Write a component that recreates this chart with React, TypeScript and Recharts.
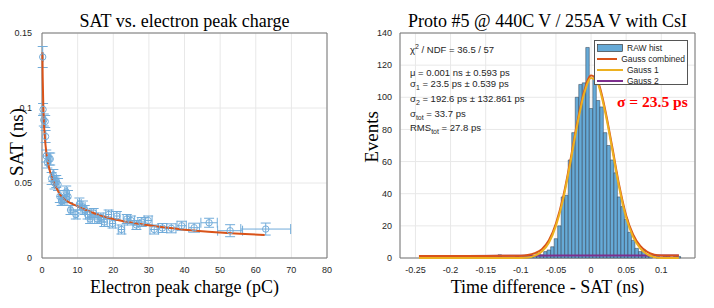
import {
  ComposedChart,
  Scatter,
  Line,
  Bar,
  XAxis,
  YAxis,
  CartesianGrid,
  ErrorBar,
  ReferenceArea,
} from "recharts";

// left panel: SAT vs charge
const chargePC = [
  0.2, 0.3, 0.5, 0.9, 1.0, 1.2, 1.5, 2.0, 2.3, 2.7, 3.2, 3.5, 4.0, 4.5, 5.0, 5.5, 6.0, 6.8, 7.3, 8.0,
  9.5, 10.5, 11.5, 12.0, 12.8, 13.5, 14.5, 15.5, 16.5, 17.5, 18.7, 19.8, 21.0, 22.3, 23.8, 25.0, 26.5,
  28.0, 29.8, 31.5, 33.8, 36.3, 39.2, 42.7, 46.9, 52.8, 62.8,
];
const chargeErr = [
  0.1, 0.1, 0.1, 0.1, 0.1, 0.1, 0.15, 0.15, 0.2, 0.2, 0.2, 0.25, 0.25, 0.3, 0.3, 0.3, 0.35, 0.4, 0.4, 0.4,
  0.5, 0.5, 0.6, 0.6, 0.6, 0.6, 0.7, 0.7, 0.7, 0.8, 0.8, 0.8, 0.9, 0.9, 1.0, 1.0, 1.0, 1.1, 1.1, 1.2, 1.2,
  1.3, 1.3, 1.5, 2.3, 3.5, 7,
];
const satNs = [
  0.134, 0.099, 0.092, 0.091, 0.081, 0.068, 0.064, 0.066, 0.066, 0.053, 0.055, 0.05, 0.051, 0.049, 0.041,
  0.038, 0.039, 0.044, 0.041, 0.032, 0.029, 0.036, 0.034, 0.032, 0.029, 0.026, 0.03, 0.026, 0.027, 0.024,
  0.029, 0.023, 0.028, 0.019, 0.026, 0.025, 0.022, 0.024, 0.025, 0.019, 0.02, 0.0198, 0.0215, 0.0202,
  0.0235, 0.0182, 0.0193,
];
const satErr = [
  0.007, 0.004, 0.004, 0.004, 0.004, 0.004, 0.004, 0.004, 0.004, 0.004, 0.004, 0.004, 0.004, 0.004, 0.004,
  0.003, 0.003, 0.004, 0.004, 0.003, 0.003, 0.004, 0.004, 0.003, 0.003, 0.003, 0.003, 0.003, 0.003, 0.003,
  0.003, 0.003, 0.003, 0.003, 0.003, 0.003, 0.003, 0.003, 0.003, 0.003, 0.003, 0.003, 0.003, 0.003, 0.003,
  0.004, 0.004,
];
const fitCharge = [0.1, 0.2, 0.35, 0.5, 0.75, 1, 1.5, 2, 3, 4, 5, 7, 10, 15, 20, 30, 40, 50, 62.5];
const fitSat = [
  0.137, 0.12, 0.103, 0.092, 0.082, 0.075, 0.066, 0.06, 0.052, 0.047, 0.0425, 0.038, 0.0345, 0.0295,
  0.026, 0.0218, 0.0189, 0.017, 0.0153,
];
const chargeTicks = [0, 10, 20, 30, 40, 50, 60, 70, 80];
const satTicks = [0, 0.05, 0.1, 0.15];

// right panel: time difference histogram
const binCenters = [
  -0.24, -0.235, -0.23, -0.225, -0.22, -0.215, -0.21, -0.205, -0.2, -0.195,
  -0.19, -0.185, -0.18, -0.175, -0.17, -0.165, -0.16, -0.155, -0.15, -0.145,
  -0.14, -0.135, -0.13, -0.125, -0.12, -0.115, -0.11, -0.105, -0.1, -0.095,
  -0.09, -0.085, -0.08, -0.075, -0.07, -0.065, -0.06, -0.055, -0.05, -0.045,
  -0.04, -0.035, -0.03, -0.025, -0.02, -0.015, -0.01, -0.005, 0, 0.005,
  0.01, 0.015, 0.02, 0.025, 0.03, 0.035, 0.04, 0.045, 0.05, 0.055,
  0.06, 0.065, 0.07, 0.075, 0.08, 0.085, 0.09, 0.095, 0.1, 0.105,
  0.11, 0.115, 0.12, 0.125,
];
const binCounts = [
  1, 0, 0, 0, 0, 0, 0, 1, 0, 0,
  0, 0, 0, 0, 0, 0, 0, 1, 0, 0,
  0, 0, 2, 0, 0, 0, 0, 1, 0, 1,
  1, 1, 1, 3, 2, 4, 5, 7, 12, 20,
  38, 39, 61, 78, 100, 108, 109, 131, 93, 112,
  98, 94, 78, 70, 61, 53, 38, 32, 24, 16,
  11, 6, 4, 5, 1, 1, 0, 1, 0, 1,
  1, 0, 1, 1,
];
const gaussX = [
  -0.245, -0.15, -0.1, -0.09, -0.08, -0.07, -0.06, -0.05, -0.04, -0.03, -0.02, -0.01, 0, 0.005, 0.01,
  0.02, 0.03, 0.04, 0.05, 0.06, 0.07, 0.08, 0.09, 0.1, 0.125,
];
const gauss1 = [0, 0, 0, 0.3, 1.5, 4, 9.5, 20, 36, 58, 82, 102, 112, 111, 108, 91, 68, 44, 25, 13, 6, 2.3, 0.6, 0, 0];
const gaussComb = [
  1.2, 1.3, 1.4, 1.8, 3, 5.5, 11, 21.5, 37.5, 59.5, 83.5, 103.5, 113.5, 112.5, 109.5, 92.5, 69.5, 45.5,
  26.5, 14.5, 7.5, 3.8, 2.1, 1.6, 1.5,
];
const gauss2X = [-0.245, -0.1, 0, 0.1, 0.125];
const gauss2 = [1.2, 1.4, 1.6, 1.6, 1.6];
const timeTicks = [-0.25, -0.2, -0.15, -0.1, -0.05, 0, 0.05, 0.1];
const eventTicks = [0, 20, 40, 60, 80, 100, 120, 140];

const satPoints = chargePC.map((x, i) => ({ x, y: satNs[i], ex: chargeErr[i], ey: satErr[i] }));
const fitLine = fitCharge.map((x, i) => ({ x, y: fitSat[i] }));
const hist = binCenters.map((x, i) => ({ x, n: binCounts[i] }));
const g1Line = gaussX.map((x, i) => ({ x, y: gauss1[i] }));
const combLine = gaussX.map((x, i) => ({ x, y: gaussComb[i] }));
const g2Line = gauss2X.map((x, i) => ({ x, y: gauss2[i] }));

const serif = '"Liberation Serif", "Times New Roman", serif';
const sans = '"Liberation Sans", Arial, sans-serif';
const tickStyle = { fontSize: 9, fill: "#262626", fontFamily: sans };
const blue = "#72ACDA";
const subStyle = { fontSize: 7, verticalAlign: "-3px", lineHeight: 0 } as const;

function OpenCircle(props: any) {
  const { cx, cy } = props;
  if (cx == null || cy == null) return null;
  return <circle cx={cx} cy={cy} r={3.2} fill="none" stroke={blue} strokeWidth={1} />;
}

function LegendRow({ label, color, box }: { label: string; color: string; box?: boolean }) {
  return (
    <div style={{ display: "flex", alignItems: "center", height: 11 }}>
      <svg width={26} height={10} style={{ marginRight: 4 }}>
        {box ? (
          <rect x={0.5} y={1.5} width={25} height={7} fill="#66AAD7" stroke="#222" strokeWidth={0.6} />
        ) : (
          <line x1={0} y1={5} x2={26} y2={5} stroke={color} strokeWidth={2} />
        )}
      </svg>
      <span>{label}</span>
    </div>
  );
}

function Note({ top, children }: { top: number; children: any }) {
  return (
    <div
      style={{
        position: "absolute",
        left: 410,
        top,
        fontFamily: sans,
        fontSize: 9.5,
        lineHeight: "12px",
        color: "#262626",
        whiteSpace: "nowrap",
      }}
    >
      {children}
    </div>
  );
}

const axisTitle = {
  position: "absolute",
  textAlign: "center",
  whiteSpace: "nowrap",
  fontFamily: serif,
  fontSize: 18,
  lineHeight: "20px",
} as const;

export default function App() {
  return (
    <div style={{ position: "absolute", left: 0, top: 0, width: 714, height: 308, background: "#fff" }}>
      {/* left panel */}
      <div style={{ position: "absolute", left: 0, top: 0 }}>
        <ComposedChart width={357} height={308} margin={{ top: 33, right: 30, bottom: 30, left: 12 }}>
          <CartesianGrid stroke="#E8E8E8" />
          <XAxis
            type="number"
            dataKey="x"
            domain={[0, 80]}
            ticks={chargeTicks}
            tick={tickStyle}
            tickLine={false}
            axisLine={false}
            tickMargin={3}
            height={20}
          />
          <YAxis
            type="number"
            dataKey="y"
            domain={[0, 0.15]}
            ticks={satTicks}
            tick={tickStyle}
            tickLine={false}
            axisLine={false}
            tickMargin={4}
            width={30}
          />
          <ReferenceArea x1={0} x2={80} y1={0} y2={0.15} fill="none" stroke="#777" strokeWidth={1} />
          <Scatter data={satPoints} shape={<OpenCircle />} isAnimationActive={false}>
            <ErrorBar dataKey="ey" direction="y" width={5} stroke={blue} strokeWidth={1} />
            <ErrorBar dataKey="ex" direction="x" width={5} stroke={blue} strokeWidth={1} />
          </Scatter>
          <Line
            data={fitLine}
            dataKey="y"
            type="monotone"
            stroke="#D95319"
            strokeWidth={2}
            dot={false}
            activeDot={false}
            isAnimationActive={false}
          />
        </ComposedChart>
      </div>
      <div style={{ ...axisTitle, left: 42, width: 285, top: 11 }}>SAT vs. electron peak charge</div>
      <div style={{ ...axisTitle, left: 42, width: 285, top: 277 }}>Electron peak charge (pC)</div>
      <div
        style={{
          ...axisTitle,
          left: 17,
          top: 142,
          fontSize: 19,
          transform: "translate(-50%, -50%) rotate(-90deg)",
        }}
      >
        SAT (ns)
      </div>

      {/* right panel */}
      <div style={{ position: "absolute", left: 357, top: 0 }}>
        <ComposedChart
          width={357}
          height={308}
          data={hist}
          margin={{ top: 33, right: 19, bottom: 30, left: 18 }}
          barCategoryGap={0}
          barGap={0}
        >
          <CartesianGrid stroke="#E8E8E8" />
          <XAxis
            type="number"
            dataKey="x"
            domain={[-0.272, 0.148]}
            ticks={timeTicks}
            tick={tickStyle}
            tickLine={false}
            axisLine={false}
            tickMargin={3}
            height={20}
          />
          <YAxis
            type="number"
            domain={[0, 140]}
            ticks={eventTicks}
            tick={tickStyle}
            tickLine={false}
            axisLine={false}
            tickMargin={2}
            width={25}
          />
          <ReferenceArea x1={-0.272} x2={0.148} y1={0} y2={140} fill="none" stroke="#777" strokeWidth={1} />
          <Bar
            dataKey="n"
            barSize={3.5}
            fill="#66AAD7"
            stroke="#2A3B4C"
            strokeWidth={0.5}
            isAnimationActive={false}
          />
          <Line data={g2Line} dataKey="y" type="monotone" stroke="#7E2F8E" strokeWidth={2} dot={false} activeDot={false} isAnimationActive={false} />
          <Line data={combLine} dataKey="y" type="monotone" stroke="#D95319" strokeWidth={2} dot={false} activeDot={false} isAnimationActive={false} />
          <Line data={g1Line} dataKey="y" type="monotone" stroke="#EDB120" strokeWidth={2} dot={false} activeDot={false} isAnimationActive={false} />
        </ComposedChart>
      </div>
      <div style={{ ...axisTitle, left: 400, width: 295, top: 11 }}>Proto #5 @ 440C V / 255A V with CsI</div>
      <div style={{ ...axisTitle, left: 400, width: 295, top: 277 }}>Time difference - SAT (ns)</div>
      <div
        style={{
          ...axisTitle,
          left: 372,
          top: 137,
          fontSize: 19,
          transform: "translate(-50%, -50%) rotate(-90deg)",
        }}
      >
        Events
      </div>

      <Note top={44}>
        χ<sup style={{ fontSize: 7, verticalAlign: "4px", lineHeight: 0 }}>2</sup> / NDF = 36.5 / 57
      </Note>
      <Note top={67}>μ = 0.001 ns ± 0.593 ps</Note>
      <Note top={78}>
        σ<sub style={subStyle}>1</sub> = 23.5 ps ± 0.539 ps
      </Note>
      <Note top={93}>
        σ<sub style={subStyle}>2</sub> = 192.6 ps ± 132.861 ps
      </Note>
      <Note top={108}>
        σ<sub style={subStyle}>tot</sub> = 33.7 ps
      </Note>
      <Note top={122}>
        RMS<sub style={subStyle}>tot</sub> = 27.8 ps
      </Note>

      <div
        style={{
          position: "absolute",
          left: 594,
          top: 40,
          width: 94,
          height: 45,
          border: "1px solid #555",
          background: "#fff",
          boxSizing: "border-box",
          padding: "1px 2px",
          fontFamily: sans,
          fontSize: 8.5,
          color: "#262626",
          whiteSpace: "nowrap",
        }}
      >
        <LegendRow label="RAW hist" color="#66AAD7" box />
        <LegendRow label="Gauss combined" color="#D95319" />
        <LegendRow label="Gauss 1" color="#EDB120" />
        <LegendRow label="Gauss 2" color="#7E2F8E" />
      </div>
      <div
        style={{
          position: "absolute",
          left: 617,
          top: 93,
          fontFamily: serif,
          fontWeight: "bold",
          fontSize: 15.5,
          lineHeight: "18px",
          color: "#FF0000",
          whiteSpace: "nowrap",
        }}
      >
        σ = 23.5 ps
      </div>
    </div>
  );
}
